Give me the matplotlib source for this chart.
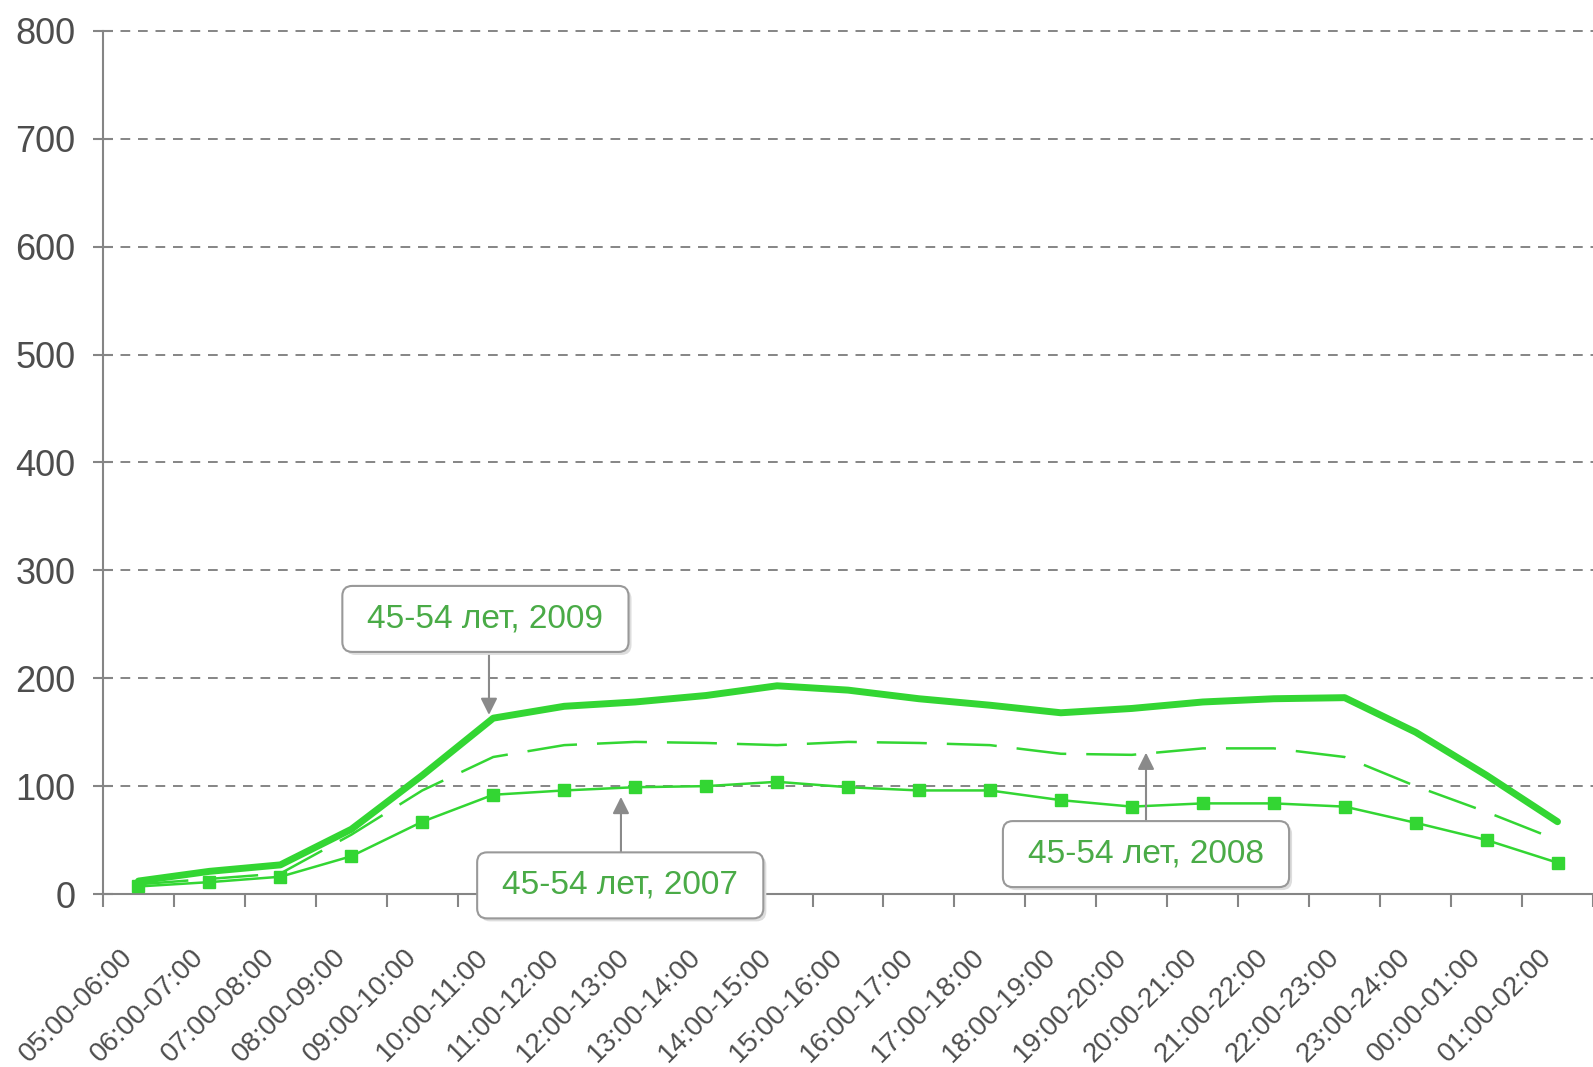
import numpy as np
import matplotlib
matplotlib.use("Agg")
import matplotlib.pyplot as plt
from matplotlib.patches import FancyBboxPatch

plt.rcParams["font.family"] = ["Liberation Sans", "DejaVu Sans"]

hours = [
    "05:00-06:00", "06:00-07:00", "07:00-08:00", "08:00-09:00", "09:00-10:00",
    "10:00-11:00", "11:00-12:00", "12:00-13:00", "13:00-14:00", "14:00-15:00",
    "15:00-16:00", "16:00-17:00", "17:00-18:00", "18:00-19:00", "19:00-20:00",
    "20:00-21:00", "21:00-22:00", "22:00-23:00", "23:00-24:00", "00:00-01:00",
    "01:00-02:00",
]
y2009 = [12, 21, 27, 60, 110, 163, 174, 178, 184, 193, 189, 181, 175, 168, 172, 178, 181, 182, 150, 110, 67]
y2008 = [9, 14, 19, 55, 96, 127, 138, 141, 140, 138, 141, 140, 138, 130, 129, 135, 135, 127, 100, 76, 50]
y2007 = [7, 11, 16, 35, 67, 92, 96, 99, 100, 104, 99, 96, 96, 87, 81, 84, 84, 81, 66, 50, 29]
yticks = [0, 100, 200, 300, 400, 500, 600, 700, 800]

# label text, box centre (x, y) and arrow tip (x, y)
labels = [
    ("45-54 лет, 2009", (4.89, 255), (4.94, 166)),
    ("45-54 лет, 2007", (6.79, 8), (6.80, 90)),
    ("45-54 лет, 2008", (14.2, 37), (14.2, 131)),
]

GREEN = "#33d633"
TXT_GREEN = "#4aab47"
GRAY = "#858585"

fig = plt.figure(figsize=(15.93, 10.67), dpi=100)
ax = fig.add_axes([103 / 1593, 1 - 894 / 1067, 1 - 103 / 1593, 863 / 1067])

x = np.arange(len(hours))
ax.plot(x, y2009, color=GREEN, lw=5, solid_capstyle="round", solid_joinstyle="round", zorder=4)
ax.plot(x, y2008, color=GREEN, lw=1.8, linestyle=(0, (20, 8)), zorder=4)
ax.plot(x, y2007, color=GREEN, lw=1.8, marker="s", markersize=8, zorder=4)

ax.set_xlim(-0.5, 20.44)
ax.set_ylim(0, 800)

# grid
for v in yticks[1:]:
    ax.axhline(v, color=GRAY, lw=1.4, linestyle=(0, (5, 4)), zorder=1, clip_on=False)

for s in ["top", "right"]:
    ax.spines[s].set_visible(False)
for s in ["left", "bottom"]:
    ax.spines[s].set_color(GRAY)
    ax.spines[s].set_linewidth(1.5)

ax.set_yticks(yticks)
ax.tick_params(axis="y", direction="inout", length=14, width=1.5, color=GRAY,
               labelsize=26, labelcolor="#4d4d4d", pad=13)

ax.set_xticks(x)
ax.set_xticklabels(hours, rotation=45, ha="right", va="top")
ax.set_xticks(np.arange(len(hours) + 1) - 0.5, minor=True)
ax.tick_params(axis="x", which="major", length=0, labelsize=20, labelcolor="#4d4d4d", pad=36)
ax.tick_params(axis="x", which="minor", direction="out", length=9, width=1.5, color=GRAY)

# annotation boxes
px_x = ax.bbox.width / (20.44 + 0.5)
px_y = ax.bbox.height / 800
bw, bh = 287 / px_x, 66 / px_y
aspect = px_x / px_y
for text, (cx, cy), (tx, ty) in labels:
    shadow = FancyBboxPatch((cx - bw / 2 + 3 / px_x, cy - bh / 2 - 3 / px_y), bw, bh,
                            boxstyle="round,pad=0,rounding_size=0.14", mutation_aspect=aspect,
                            fc="#dddddd", ec="none", zorder=6, clip_on=False)
    box = FancyBboxPatch((cx - bw / 2, cy - bh / 2), bw, bh,
                         boxstyle="round,pad=0,rounding_size=0.14", mutation_aspect=aspect,
                         fc="white", ec="#999999", lw=1.5, zorder=7, clip_on=False)
    ax.add_patch(shadow)
    ax.add_patch(box)
    ax.text(cx, cy, text, ha="center", va="center", fontsize=24, color=TXT_GREEN,
            zorder=8, clip_on=False)
    start_y = cy + bh / 2 if ty > cy else cy - bh / 2
    ax.annotate("", xy=(tx, ty), xytext=(tx, start_y),
                arrowprops=dict(arrowstyle="-|>", color="#8a8a8a", lw=1.5,
                                mutation_scale=25, shrinkA=0, shrinkB=0),
                zorder=5)

fig.savefig("out.png", dpi=100, facecolor="white")
